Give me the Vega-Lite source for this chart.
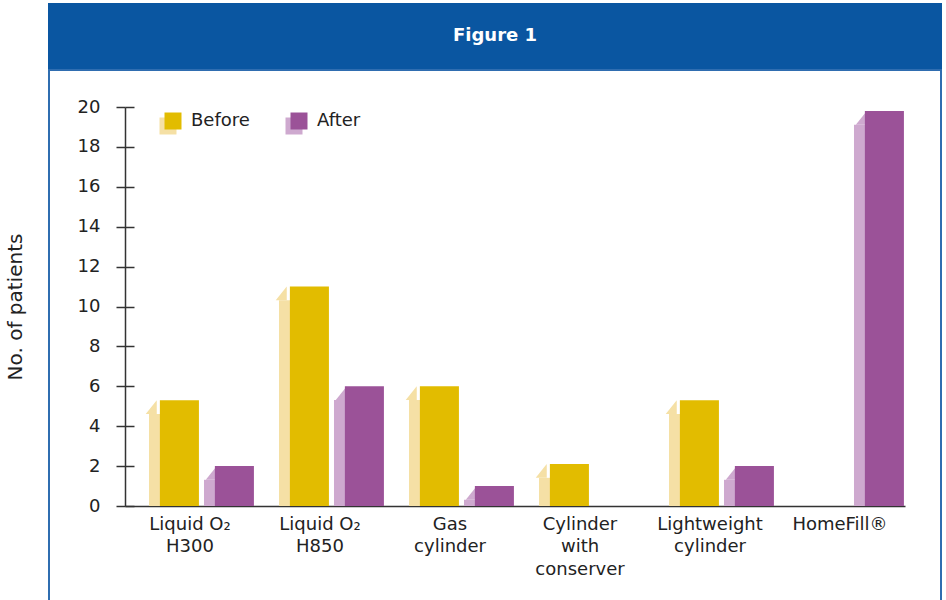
{
  "$schema": "https://vega.github.io/schema/vega-lite/v6.json",
  "padding": {"left": 4, "top": 3, "right": 5, "bottom": 0},
  "spacing": 0,
  "config": {
    "font": "DejaVu Sans",
    "view": {"stroke": null},
    "concat": {"spacing": 0}
  },
  "datasets": {
    "patients": [
      {"device": "Liquid O₂|H300", "period": "Before", "patients": 5.3},
      {"device": "Liquid O₂|H300", "period": "After", "patients": 2},
      {"device": "Liquid O₂|H850", "period": "Before", "patients": 11},
      {"device": "Liquid O₂|H850", "period": "After", "patients": 6},
      {"device": "Gas|cylinder", "period": "Before", "patients": 6},
      {"device": "Gas|cylinder", "period": "After", "patients": 1},
      {"device": "Cylinder|with|conserver", "period": "Before", "patients": 2.1},
      {"device": "Cylinder|with|conserver", "period": "After", "patients": 0},
      {"device": "Lightweight|cylinder", "period": "Before", "patients": 5.3},
      {"device": "Lightweight|cylinder", "period": "After", "patients": 2},
      {"device": "HomeFill®", "period": "Before", "patients": 0},
      {"device": "HomeFill®", "period": "After", "patients": 19.8}
    ]
  },
  "vconcat": [
    {
      "width": 892,
      "height": 64,
      "view": {"fill": "#0A56A1", "stroke": "#0A56A1", "strokeWidth": 2},
      "data": {"values": [{"heading": "Figure 1"}]},
      "mark": {"type": "text", "color": "white", "fontSize": 18, "fontWeight": "bold", "font": "DejaVu Sans"},
      "encoding": {"text": {"field": "heading"}}
    },
    {
      "width": 892,
      "height": 532,
      "view": {"fill": "white", "stroke": "#2F6DB0", "strokeWidth": 2},
      "data": {"name": "patients"},
      "resolve": {"axis": {"y": "independent"}, "scale": {"xOffset": "independent"}},
      "encoding": {
        "x": {"field": "device", "type": "nominal", "sort": null,
              "scale": {"range": [76, 856], "paddingInner": 0, "paddingOuter": 0},
              "axis": {"orient": "bottom", "offset": -96, "ticks": false, "domainColor": "#333", "domainWidth": 1.5,
                       "labelExpr": "split(datum.label, '|')", "labelFontSize": 18, "labelColor": "#222",
                       "labelAngle": 0, "labelPadding": 9, "labelLineHeight": 22.5, "title": null}}
      },
      "layer": [
        {
          "mark": {"type": "bar", "yOffset": 13.7},
          "encoding": {
            "xOffset": {"field": "period", "type": "nominal", "sort": ["Before", "After"],
                        "scale": {"paddingInner": 0.8, "paddingOuter": 0.582, "align": 0.375}},
            "y": {"field": "patients", "type": "quantitative", "stack": null,
                  "scale": {"domain": [0, 20], "range": [436, 37], "nice": false},
                  "axis": {"orient": "left", "offset": -76, "values": [0, 2, 4, 6, 8, 10, 12, 14, 16, 18, 20],
                           "tickSize": -9, "tickColor": "#333", "tickWidth": 1.5, "labels": false,
                           "domain": false, "grid": false, "title": null}},
            "fillOpacity": {"condition": {"test": "datum.patients > 0", "value": 1}, "value": 0},
            "fill": {"field": "period", "type": "nominal",
                     "scale": {"domain": ["After", "Before"], "range": ["#CEA9CF", "#F5E0A5"]},
                     "legend": {"orient": "none", "legendX": 110, "legendY": 113, "direction": "horizontal",
                                "values": ["Before", "After"], "labelExpr": "''",
                                "title": null, "symbolType": "square", "symbolSize": 289, "symbolStrokeWidth": 0,
                                "labelFontSize": 18, "labelOffset": 0, "columnPadding": 108,
                                "zindex": 0, "symbolOpacity": 1}}
          }
        },
        {
          "mark": {"type": "point", "shape": "M 0.5 0 L 0.5 1.245 L -0.5 1.245 Z", "size": 484, "filled": true,
                   "opacity": 1, "strokeWidth": 0},
          "encoding": {
            "xOffset": {"field": "period", "type": "nominal", "sort": ["Before", "After"],
                        "scale": {"paddingInner": 0.8, "paddingOuter": 0.582, "align": 0.375}},
            "y": {"field": "patients", "type": "quantitative", "axis": null},
            "fillOpacity": {"condition": {"test": "datum.patients > 0", "value": 1}, "value": 0},
            "fill": {"field": "period", "type": "nominal", "legend": null}
          }
        },
        {
          "mark": {"type": "bar"},
          "encoding": {
            "xOffset": {"field": "period", "type": "nominal", "sort": ["Before", "After"],
                        "scale": {"paddingInner": 0.29, "paddingOuter": 0.327, "align": 0.97}},
            "y": {"field": "patients", "type": "quantitative", "stack": null,
                  "axis": {"orient": "left", "offset": -76, "values": [0, 2, 4, 6, 8, 10, 12, 14, 16, 18, 20],
                           "tickSize": 9, "tickColor": "#333", "tickWidth": 1.5, "domainColor": "#333", "domainWidth": 1.5,
                           "labelFontSize": 18, "labelColor": "#222", "labelPadding": 16, "grid": false,
                           "title": "No. of patients", "titleFontSize": 20, "titleFontWeight": "normal",
                           "titleColor": "#222", "titlePadding": 52}},
            "color": {"field": "period", "type": "nominal",
                      "scale": {"domain": ["Before", "After"], "range": ["#E2BC00", "#9B5298"]},
                      "legend": {"orient": "none", "legendX": 115, "legendY": 108, "direction": "horizontal",
                                 "title": null, "symbolType": "square", "symbolSize": 289, "symbolStrokeWidth": 0,
                                 "labelFontSize": 18, "labelColor": "#222", "labelOffset": 9, "columnPadding": 40,
                                 "zindex": 1, "symbolOpacity": 1}}
          }
        }
      ]
    }
  ]
}
